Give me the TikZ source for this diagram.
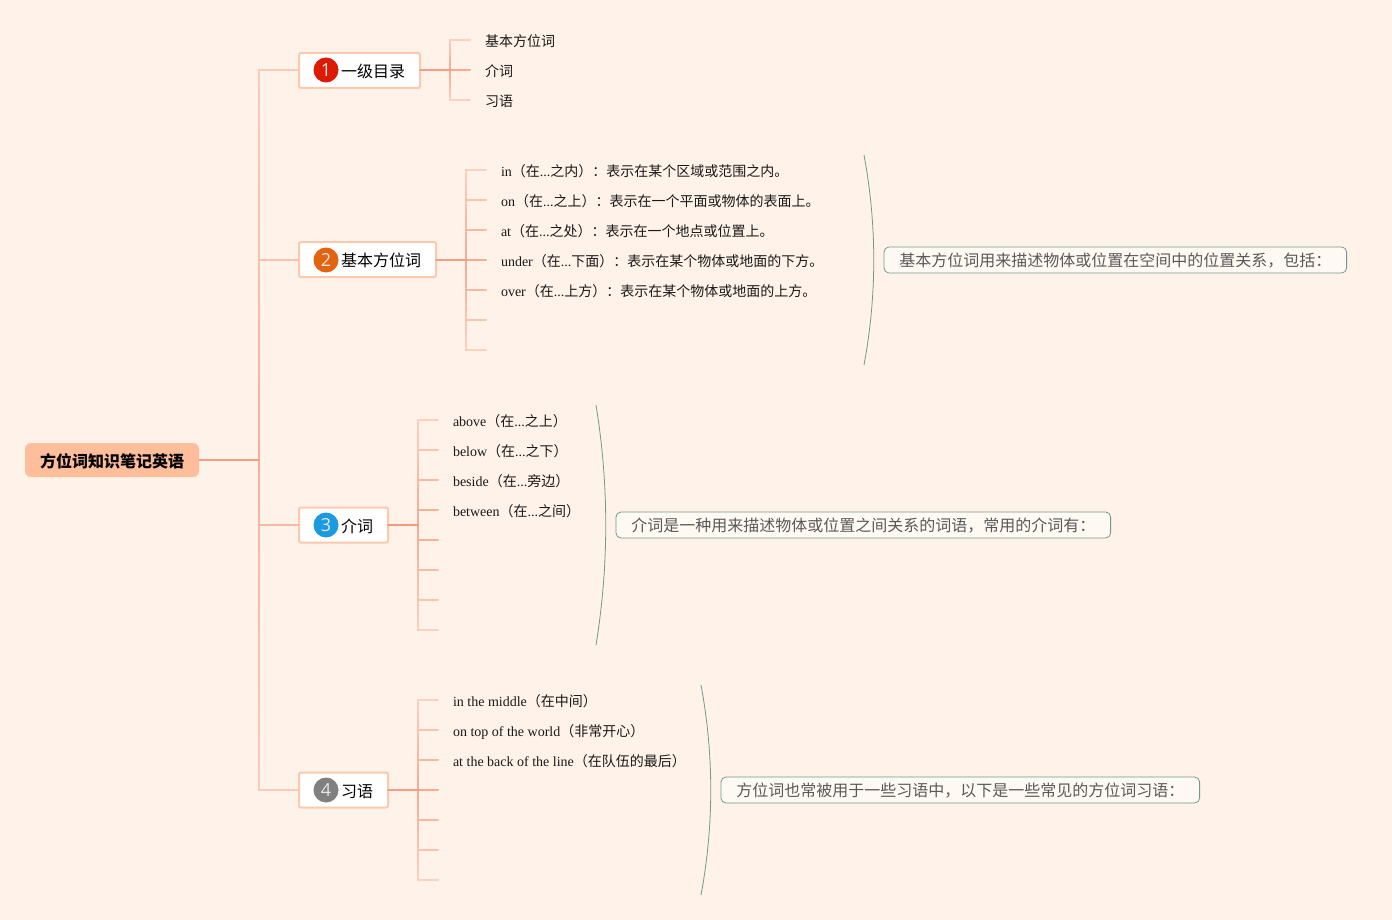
\documentclass[tikz,border=0pt]{standalone}
\usepackage{fontspec}
\usetikzlibrary{calc}
\setmainfont{Liberation Serif}
\newfontfamily\cjkf{Noto Sans CJK SC}
\newfontfamily\numf{Open Sans}
\newcommand\cn[1]{{\cjkf #1}}
\definecolor{bgc}{HTML}{FFF2E8}
\definecolor{hot}{HTML}{F39A7E}
\definecolor{pale}{HTML}{FBD0BE}
\definecolor{rootc}{HTML}{FFBE9B}
\definecolor{boxline}{HTML}{FCC9AE}
\definecolor{notec}{HTML}{6F9A8C}
\definecolor{notef}{HTML}{FFF9F4}
\tikzset{
  every node/.style={outer sep=0pt},
  branch/.style={line width=2pt,line cap=round},
  rootbox/.style={fill=rootc,rounded corners=6pt,inner xsep=15pt,inner ysep=0pt,minimum height=34pt,text height=16pt,text depth=1.8pt,font=\cjkf\bfseries\fontsize{16}{18}\selectfont,anchor=west},
  topicbox/.style={draw=boxline,line width=2pt,fill=white,rounded corners=2pt,inner xsep=15pt,inner ysep=0pt,minimum height=35pt,text height=16pt,text depth=1.8pt,font=\cjkf\fontsize{16}{18}\selectfont,anchor=west},
  iconc/.style={circle,minimum size=25pt,inner sep=0pt,text=white!90!black,font=\numf\fontsize{18}{20}\selectfont},
  leaftext/.style={anchor=base west,inner sep=0pt,font=\fontsize{14}{16}\selectfont,text=black!90},
  notebox/.style={draw=notec,line width=.8pt,fill=notef,rounded corners=5pt,inner xsep=15.3pt,inner ysep=0pt,minimum height=26pt,text height=15pt,text depth=1.8pt,font=\cjkf\fontsize{16}{18}\selectfont,text=black!65,anchor=west},
  bracec/.style={draw=notec,line width=.8pt}
}
\newcommand\grad[4]{%
  \foreach \gi in {0,...,9}{%
    \pgfmathsetmacro\ga{\gi/10}%
    \pgfmathsetmacro\gb{(\gi+1)/10}%
    \pgfmathsetmacro\gp{#3+(#4-#3)*(\gi+.5)/10}%
    \draw[branch,draw=hot!\gp!pale] ($(#1)!\ga!(#2)$) -- ($(#1)!\gb!(#2)$);
  }}
% prefix, x, count, first y, middle y, largest distance
\newcommand\bracket[6]{%
  \coordinate (#1m) at (#2,#5);
  \foreach \k in {1,...,#3}{%
    \pgfmathsetmacro\yy{#4+30*(\k-1)}%
    \pgfmathsetmacro\pp{70*(1-abs(\yy-#5)/#6)}%
    \coordinate (#1j\k) at (#2,\yy);
    \coordinate (#1e\k) at (#2+20,\yy);
    \draw[branch,draw=hot!\pp!pale] (#1j\k) -- (#1e\k);
  }
  \foreach \k in {2,...,#3}{%
    \pgfmathtruncatemacro\kp{\k-1}%
    \pgfmathsetmacro\yy{#4+30*(\k-1)}%
    \pgfmathsetmacro\pa{70*(1-abs(\yy-30-#5)/#6)}%
    \pgfmathsetmacro\pb{70*(1-abs(\yy-#5)/#6)}%
    \grad{#1j\kp}{#1j\k}{\pa}{\pb}
  }}
\begin{document}
\begin{tikzpicture}[x=1pt,y=-1pt]
\useasboundingbox (0,0) rectangle (1392,920);
\fill[bgc] (0,0) rectangle (1392,920);
% brackets
\bracket{a}{450}{3}{40}{70}{30}
\bracket{b}{466}{7}{170}{260}{90}
\bracket{c}{418}{8}{420}{525}{105}
\bracket{d}{418}{7}{700}{790}{90}
% main tree coordinates
\coordinate (tm) at (259,460);
\coordinate (t1) at (259,70);
\coordinate (t2) at (259,260);
\coordinate (t3) at (259,525);
\coordinate (t4) at (259,790);
% nodes
\node[rootbox] (root) at (25,460) {方位词知识笔记英语};
\node[topicbox] (n1) at (299,70.5) {\hspace{27pt}一级目录};
\node[topicbox] (n2) at (299,259.5) {\hspace{27pt}基本方位词};
\node[topicbox] (n3) at (299,525) {\hspace{27pt}介词};
\node[topicbox] (n4) at (299,790) {\hspace{27pt}习语};
\node[iconc,fill={rgb,255:red,221;green,26;blue,4}] (i1) at (326,70) {1};
\node[iconc,fill={rgb,255:red,227;green,100;blue,15}] (i2) at (326,260) {2};
\node[iconc,fill={rgb,255:red,27;green,155;blue,222}] (i3) at (326,525) {3};
\node[iconc,fill={rgb,255:red,128;green,128;blue,128}] (i4) at (326,790) {4};
% main connectors
\grad{tm}{t2}{60}{30}
\grad{t2}{t1}{30}{10}
\grad{tm}{t3}{60}{45}
\grad{t3}{t4}{45}{10}
\draw[branch,draw=hot!90!pale] (root.east) -- (tm);
\draw[branch,draw=hot!10!pale] (t1) -- (t1 -| n1.west);
\draw[branch,draw=hot!30!pale] (t2) -- (t2 -| n2.west);
\draw[branch,draw=hot!45!pale] (t3) -- (t3 -| n3.west);
\draw[branch,draw=hot!10!pale] (t4) -- (t4 -| n4.west);
\draw[branch,draw=hot!90!pale] (am -| n1.east) -- (am);
\draw[branch,draw=hot!90!pale] (bm -| n2.east) -- (bm);
\draw[branch,draw=hot!100!pale] (cm -| n3.east) -- (cm);
\draw[branch,draw=hot!90!pale] (dm -| n4.east) -- (dm);
% leaf texts
\node[leaftext] (a1) at (485,46.6) {\cn{基本方位词}};
\node[leaftext] (a2) at (485,76.6) {\cn{介词}};
\node[leaftext] (a3) at (485,106.6) {\cn{习语}};
\node[leaftext] (b1) at (501,176.6) {in\cn{（在}...\cn{之内）：表示在某个区域或范围之内。}};
\node[leaftext] (b2) at (501,206.6) {on\cn{（在}...\cn{之上）：表示在一个平面或物体的表面上。}};
\node[leaftext] (b3) at (501,236.6) {at\cn{（在}...\cn{之处）：表示在一个地点或位置上。}};
\node[leaftext] (b4) at (501,266.6) {under\cn{（在}...\cn{下面）：表示在某个物体或地面的下方。}};
\node[leaftext] (b5) at (501,296.6) {over\cn{（在}...\cn{上方）：表示在某个物体或地面的上方。}};
\node[leaftext] (c1) at (453,426.6) {above\cn{（在}...\cn{之上）}};
\node[leaftext] (c2) at (453,456.6) {below\cn{（在}...\cn{之下）}};
\node[leaftext] (c3) at (453,486.6) {beside\cn{（在}...\cn{旁边）}};
\node[leaftext] (c4) at (453,516.6) {between\cn{（在}...\cn{之间）}};
\node[leaftext] (d1) at (453,706.6) {in the middle\cn{（在中间）}};
\node[leaftext] (d2) at (453,736.6) {on top of the world\cn{（非常开心）}};
\node[leaftext] (d3) at (453,766.6) {at the back of the line\cn{（在队伍的最后）}};
% notes
\node[notebox] (s1) at (884,260) {基本方位词用来描述物体或位置在空间中的位置关系，包括：};
\node[notebox] (s2) at (616,525) {介词是一种用来描述物体或位置之间关系的词语，常用的介词有：};
\node[notebox] (s3) at (721,790) {方位词也常被用于一些习语中，以下是一些常见的方位词习语：};
% braces
\coordinate (p1a) at (864,155); \coordinate (p1b) at (864,365);
\coordinate (p2a) at (596,405); \coordinate (p2b) at (596,645);
\coordinate (p3a) at (701,685); \coordinate (p3b) at (701,895);
\draw[bracec] (p1a) .. controls (877,225) and (877,295) .. (p1b);
\draw[bracec] (p2a) .. controls (609,485) and (609,565) .. (p2b);
\draw[bracec] (p3a) .. controls (714,755) and (714,825) .. (p3b);
\end{tikzpicture}
\end{document}
